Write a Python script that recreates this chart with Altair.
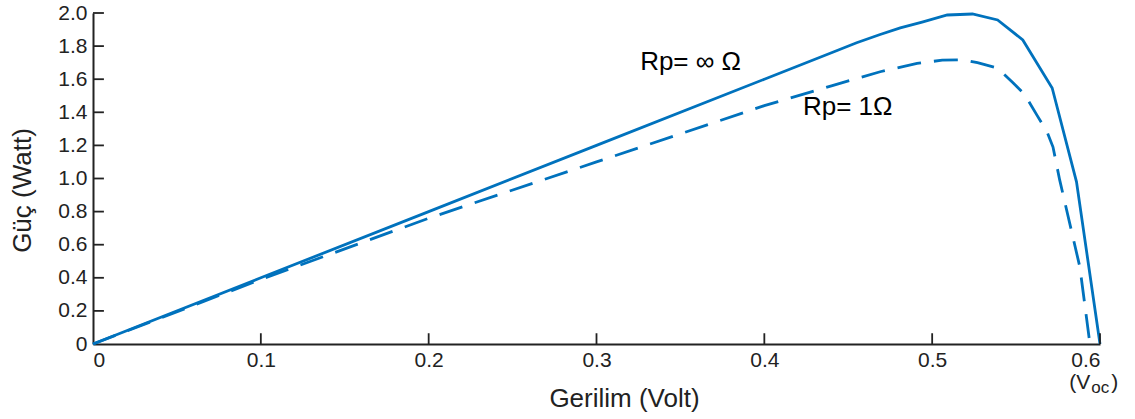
import altair as alt
import pandas as pd

# Power-voltage curves of a solar cell for two shunt resistances
v_inf = [0, 0.1, 0.2, 0.3, 0.4, 0.44, 0.455, 0.469, 0.481, 0.494, 0.509, 0.524, 0.539, 0.554,
         0.5715, 0.586, 0.6]
p_inf = [0, 0.40, 0.80, 1.20, 1.60, 1.76, 1.82, 1.87, 1.91, 1.945, 1.988, 1.994, 1.958, 1.837,
         1.547, 0.98, 0]

v_one = [0, 0.1, 0.2, 0.3, 0.4, 0.44, 0.469, 0.491, 0.506, 0.518, 0.527, 0.539, 0.548, 0.555,
         0.5626, 0.5685, 0.572, 0.576, 0.588, 0.594]
p_one = [0, 0.39, 0.76, 1.10, 1.44, 1.56, 1.645, 1.695, 1.715, 1.718, 1.70, 1.667, 1.58, 1.51,
         1.38, 1.28, 1.19, 0.99, 0.465, 0]

x_ticks = [0, 0.1, 0.2, 0.3, 0.4, 0.5, 0.6]
y_ticks = [0, 0.2, 0.4, 0.6, 0.8, 1.0, 1.2, 1.4, 1.6, 1.8, 2.0]

BLUE = "#0072BD"
INK = "#222222"
FONT = "Liberation Sans"
TICK_FONT = 21

x_scale = alt.Scale(domain=[0, 0.6], nice=False, zero=False)
y_scale = alt.Scale(domain=[0, 2.0], nice=False, zero=False)

label_expr = "datum.value == 0 ? '0' : format(datum.value, '.1f')"

common = dict(labelExpr=label_expr, ticks=False, grid=False, labelOverlap=False,
              titleBaseline="middle", titleFontSize=26, titleFontWeight="normal",
              titleFont=FONT, titleColor=INK, labelFont=FONT, labelFontSize=TICK_FONT,
              labelColor=INK, domainColor=INK, domainWidth=2)

x_axis = alt.Axis(values=x_ticks, title="Gerilim (Volt)", titleX=531, titleY=54,
                  labelPadding=5, **common)
y_axis = alt.Axis(values=y_ticks, title="Güç (Watt)", titleX=-71, titleY=177, titleAngle=-90,
                  labelPadding=6, **common)

# every layer shares the same scales and axis settings
X = alt.X("V:Q", scale=x_scale, axis=x_axis)
Y = alt.Y("P:Q", scale=y_scale, axis=y_axis)

df_inf = pd.DataFrame({"V": v_inf, "P": p_inf})
df_one = pd.DataFrame({"V": v_one, "P": p_one})

solid = alt.Chart(df_inf).mark_line(color=BLUE, strokeWidth=2.8).encode(
    x=X, y=Y, order="V:Q")
dashed = alt.Chart(df_one).mark_line(color=BLUE, strokeWidth=2.8, strokeDash=[24, 13]).encode(
    x=X, y=Y, order="V:Q")

# inward tick marks along both axes
xt = pd.DataFrame({"V": x_ticks[1:], "V2": x_ticks[1:], "P": [0] * 6, "P2": [0.065] * 6})
yt = pd.DataFrame({"V": [0] * 10, "V2": [0.0065] * 10, "P": y_ticks[1:], "P2": y_ticks[1:]})
ticks_df = pd.concat([xt, yt], ignore_index=True)
ticks = alt.Chart(ticks_df).mark_rule(color=INK, strokeWidth=1.8).encode(
    x=X, x2="V2:Q", y=Y, y2="P2:Q")

labels = pd.DataFrame({"V": [0.326, 0.423], "P": [1.704, 1.432], "t": ["Rp= ∞ Ω", "Rp= 1Ω"]})
curve_labels = alt.Chart(labels).mark_text(align="left", baseline="middle", font=FONT,
                                           fontSize=26, color="black").encode(
    x=X, y=Y, text="t:N")

# open-circuit voltage note under the 0.6 tick
voc = pd.DataFrame({
    "V": [0.5942, 0.5948, 0.6067],
    "P": [-0.236, -0.266, -0.236],
    "t": ["(V", "oc", ")"],
})
voc_left = alt.Chart(voc[voc["t"] == "(V"]).mark_text(align="right", baseline="middle", font=FONT,
                                                      fontSize=21, color=INK).encode(
    x=X, y=Y, text="t:N")
voc_sub = alt.Chart(voc[voc["t"] == "oc"]).mark_text(align="left", baseline="middle", font=FONT,
                                                     fontSize=17, color=INK).encode(
    x=X, y=Y, text="t:N")
voc_right = alt.Chart(voc[voc["t"] == ")"]).mark_text(align="left", baseline="middle", font=FONT,
                                                      fontSize=21, color=INK).encode(
    x=X, y=Y, text="t:N")

chart = alt.layer(solid, dashed, ticks, curve_labels, voc_left, voc_sub, voc_right).properties(
    width=1007, height=331,
    autosize=alt.AutoSizeParams(type="none"),
    padding={"left": 93, "top": 13, "right": 35, "bottom": 75},
    background="white",
).configure_view(stroke=None).configure_axis(
    labelFontSize=TICK_FONT, labelFont=FONT, labelColor=INK
)

chart.save("out.html", embed_options={"renderer": "svg", "actions": False})
